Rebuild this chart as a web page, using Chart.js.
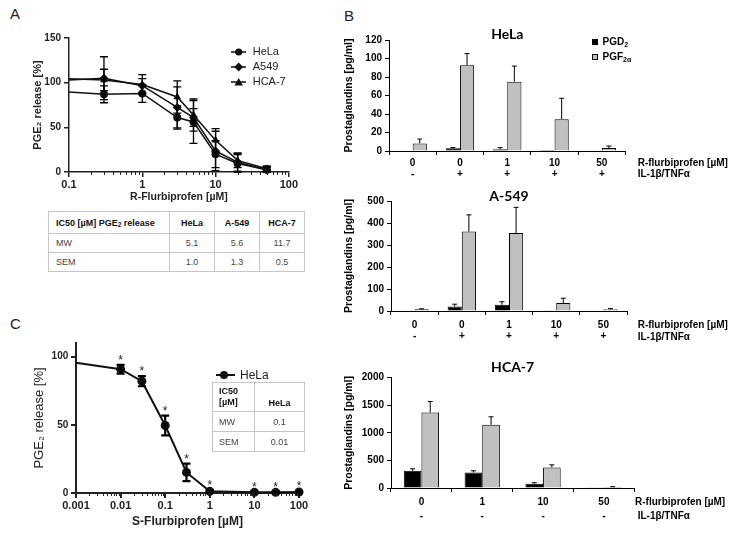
<!DOCTYPE html>
<html>
<head>
<meta charset="utf-8">
<script src="https://cdn.jsdelivr.net/npm/chart.js@4.4.1/dist/chart.umd.min.js"></script>
<style>
  body { margin: 0; background: #fff; }
  #page { position: relative; width: 740px; height: 535px; overflow: hidden; font-family: "Liberation Sans", Arial, sans-serif; color: #000; }
  canvas, .abs { position: absolute; }
  .letter { font-size: 15px; line-height: 15px; color: #222; }
  .side { font-size: 10px; font-weight: bold; line-height: 10px; white-space: nowrap; }
  .leg { font-size: 11px; line-height: 11px; color: #222; white-space: nowrap; }
  .bleg { font-size: 10px; font-weight: bold; line-height: 10px; white-space: nowrap; }
  .bleg sub { font-size: 7px; vertical-align: -2px; line-height: 0; }
  .sq { width: 6px; height: 6px; box-sizing: border-box; }
  table.ic { position: absolute; border-collapse: collapse; font-size: 9px; color: #444; table-layout: fixed; }
  table.ic td { border: 1px solid #c6c6c6; padding: 0 0 0 7px; white-space: nowrap; }
  table.ic td.c { text-align: center; padding: 0; }
  table.ic td.h { font-weight: bold; color: #111; }
  table.ic sub { font-size: 6.5px; vertical-align: -1px; line-height: 0; }
</style>
</head>
<body>
<div id="page">
  <div class="abs letter" style="left:10px;top:6px;">A</div>
  <div class="abs letter" style="left:344px;top:8px;">B</div>
  <div class="abs letter" style="left:10px;top:316px;">C</div>

  <canvas id="chartA" width="280" height="185" style="left:20px;top:25px;"></canvas>
  <canvas id="chartC" width="292" height="205" style="left:22px;top:330px;"></canvas>
  <canvas id="chartHela" width="300" height="162" style="left:340px;top:20px;"></canvas>
  <canvas id="chartA549" width="300" height="160" style="left:340px;top:182px;"></canvas>
  <canvas id="chartHca" width="300" height="171" style="left:340px;top:353px;"></canvas>

  <!-- panel A legend -->
  <svg class="abs" style="left:230px;top:46.7px;" width="18" height="10"><line x1="1" y1="5" x2="16" y2="5" stroke="#111" stroke-width="1.5"/><circle cx="8.7" cy="5" r="3.6" fill="#111"/></svg>
  <div class="abs leg" style="left:252.7px;top:46.2px;">HeLa</div>
  <svg class="abs" style="left:230px;top:61.7px;" width="18" height="10"><line x1="1" y1="5" x2="16" y2="5" stroke="#111" stroke-width="1.5"/><polygon points="8.7,0.5 13.2,5 8.7,9.5 4.2,5" fill="#111"/></svg>
  <div class="abs leg" style="left:252.7px;top:61.2px;">A549</div>
  <svg class="abs" style="left:230px;top:76.7px;" width="18" height="10"><line x1="1" y1="5" x2="16" y2="5" stroke="#111" stroke-width="1.5"/><polygon points="8.7,1 12.9,8.5 4.5,8.5" fill="#111"/></svg>
  <div class="abs leg" style="left:252.7px;top:76.2px;">HCA-7</div>

  <table class="ic" style="left:48px;top:211px;width:256px;">
    <colgroup><col style="width:121px"><col style="width:45px"><col style="width:45px"><col style="width:45px"></colgroup>
    <tr style="height:22px;"><td class="h">IC50 [µM] PGE<sub>2</sub> release</td><td class="c h">HeLa</td><td class="c h">A-549</td><td class="c h">HCA-7</td></tr>
    <tr style="height:19px;"><td>MW</td><td class="c">5.1</td><td class="c">5.6</td><td class="c">11.7</td></tr>
    <tr style="height:19px;"><td>SEM</td><td class="c">1.0</td><td class="c">1.3</td><td class="c">0.5</td></tr>
  </table>

  <!-- panel B legend and side labels -->
  <div class="abs sq" style="left:592px;top:38.5px;background:#000;"></div>
  <div class="abs bleg" style="left:602.5px;top:36.7px;">PGD<sub>2</sub></div>
  <div class="abs sq" style="left:592px;top:54px;background:#c0c0c0;border:1px solid #000;"></div>
  <div class="abs bleg" style="left:602.5px;top:51.7px;">PGF<sub>2α</sub></div>

  <div class="abs side" style="left:637.7px;top:158.3px;">R-flurbiprofen [µM]</div>
  <div class="abs side" style="left:637.7px;top:168.7px;">IL-1β/TNFα</div>
  <div class="abs side" style="left:637.7px;top:320.3px;">R-flurbiprofen [µM]</div>
  <div class="abs side" style="left:637.7px;top:331.7px;">IL-1β/TNFα</div>
  <div class="abs side" style="left:635px;top:497.3px;">R-flurbiprofen [µM]</div>
  <div class="abs side" style="left:637.7px;top:511px;">IL-1β/TNFα</div>

  <!-- panel C legend and table -->
  <svg class="abs" style="left:214px;top:370px;" width="24" height="10"><line x1="2" y1="5" x2="21" y2="5" stroke="#111" stroke-width="2"/><circle cx="10" cy="5" r="4" fill="#111"/></svg>
  <div class="abs leg" style="left:240px;top:369px;font-size:12px;line-height:12px;">HeLa</div>
  <table class="ic" style="left:212px;top:382px;width:92px;">
    <colgroup><col style="width:42px"><col style="width:50px"></colgroup>
    <tr style="height:29px;"><td class="h" style="padding-left:6px;line-height:11.5px;">IC50<br>[µM]</td><td class="c h" style="vertical-align:bottom;padding-bottom:3px;">HeLa</td></tr>
    <tr style="height:20px;"><td style="padding-left:6px;">MW</td><td class="c">0.1</td></tr>
    <tr style="height:20px;"><td style="padding-left:6px;">SEM</td><td class="c">0.01</td></tr>
  </table>
</div>

<script>
// ---- panel A: R-flurbiprofen, PGE2 release [%]
var rConc = [0.1, 0.3, 1, 3, 5, 10, 20, 50];
var helaA = [89.5, 87, 88, 61, 56, 20, 9.5, 2.6];
var helaAErr = [0, 9.5, 10, 13, 24, 15, 10, 3];
var a549A = [103, 105, 96.6, 72.3, 61, 23.6, 11, 2.6];
var a549AErr = [0, 24, 8, 23, 10, 22, 10, 3];
var hca7A = [104.5, 103, 98, 84, 63.7, 35.6, 13, 3.7];
var hca7AErr = [0, 12, 11, 18, 18, 13, 8, 3];
var aTicks = [0.1, 1, 10, 100];
var aTickLabels = ['0.1', '1', '10', '100'];
var aYTicks = [0, 50, 100, 150];

// ---- panel B: prostaglandins [pg/ml]
var helaConc = ['0', '0', '1', '10', '50'];
var helaStim = ['-', '+', '+', '+', '+'];
var helaPGD2 = [0, 2.9, 2, 1, 0];
var helaPGD2Err = [0, 0.8, 1.6, 0, 0];
var helaPGF2a = [8.2, 92.8, 75, 34.4, 3.2];
var helaPGF2aErr = [4.7, 12.5, 16.8, 22.6, 2.2];

var a549Conc = ['0', '0', '1', '10', '50'];
var a549Stim = ['-', '+', '+', '+', '+'];
var a549PGD2 = [0, 21, 28, 3, 0];
var a549PGD2Err = [0, 10, 14, 0, 0];
var a549PGF2a = [7.5, 361, 355, 36, 8];
var a549PGF2aErr = [2.5, 76, 116, 22, 3];

var hcaConc = ['0', '1', '10', '50'];
var hcaStim = ['-', '-', '-', '-'];
var hcaPGD2 = [312, 282, 78, 12];
var hcaPGD2Err = [36, 30, 18, 0];
var hcaPGF2a = [1369, 1147, 372, 18];
var hcaPGF2aErr = [199, 144, 48, 6];

// ---- panel C: S-flurbiprofen, HeLa
var sConc = [0.001, 0.01, 0.03, 0.1, 0.3, 1, 10, 30, 100];
var helaC = [95.5, 90.8, 82, 49.5, 15.1, 1.2, 0.5, 0.5, 0.7];
var helaCErr = [0, 3.2, 3.7, 7.2, 6.4, 1, 0.6, 0.6, 0.6];
var helaCStar = [false, true, true, true, true, true, true, true, true];
var cTicks = [0.001, 0.01, 0.1, 1, 10, 100];
var cTickLabels = ['0.001', '0.01', '0.1', '1', '10', '100'];
var cYTicks = [0, 50, 100];

Chart.defaults.font.family = '"Liberation Sans", Arial, sans-serif';
Chart.defaults.color = '#000';
Chart.defaults.animation = false;
Chart.defaults.plugins.legend.display = false;
Chart.defaults.plugins.tooltip.enabled = false;

// error bars (+ optional significance stars) drawn from each dataset's errors array
var errorBars = {
    id: 'errorBars',
    afterDatasetsDraw: function (chart, args, opts) {
        var ctx = chart.ctx;
        var yScale = chart.scales.y;
        var cap = opts.cap || 6;
        chart.data.datasets.forEach(function (ds, i) {
            if (!ds.errors) return;
            var meta = chart.getDatasetMeta(i);
            ctx.save();
            ctx.strokeStyle = opts.color || '#000';
            ctx.lineWidth = opts.width || 1;
            meta.data.forEach(function (el, j) {
                var v = ds.data[j];
                if (typeof v === 'object') v = v.y;
                var e = ds.errors[j];
                var x = el.x;
                var top = yScale.getPixelForValue(v + e);
                if (e > 0) {
                    var bottom = opts.upOnly ? el.y : yScale.getPixelForValue(v - e);
                    ctx.beginPath();
                    ctx.moveTo(x, bottom);
                    ctx.lineTo(x, top);
                    ctx.moveTo(x - cap / 2, top);
                    ctx.lineTo(x + cap / 2, top);
                    if (!opts.upOnly) {
                        ctx.moveTo(x - cap / 2, bottom);
                        ctx.lineTo(x + cap / 2, bottom);
                    }
                    ctx.stroke();
                }
                if (ds.stars && ds.stars[j]) {
                    ctx.fillStyle = '#222';
                    ctx.font = '12px "Liberation Sans", Arial';
                    ctx.textAlign = 'center';
                    ctx.textBaseline = 'alphabetic';
                    ctx.fillText('*', x, top - 1);
                }
            });
            ctx.restore();
        });
    }
};

// short minor ticks on the log x axis
var minorTicks = {
    id: 'minorTicks',
    afterDraw: function (chart, args, opts) {
        var s = chart.scales.x;
        var ctx = chart.ctx;
        ctx.save();
        ctx.strokeStyle = '#222';
        ctx.lineWidth = 1;
        var e0 = Math.round(Math.log10(s.min)), e1 = Math.round(Math.log10(s.max));
        for (var e = e0; e < e1; e++) {
            for (var k = 2; k <= 9; k++) {
                var px = Math.round(s.getPixelForValue(k * Math.pow(10, e))) + 0.5;
                ctx.beginPath();
                ctx.moveTo(px, s.top);
                ctx.lineTo(px, s.top + (opts.len || 3));
                ctx.stroke();
            }
        }
        ctx.restore();
    }
};

function pts(xs, ys) {
    return xs.map(function (x, i) { return { x: x, y: ys[i] }; });
}

function lineSet(data, errs, style, radius) {
    var r = data.map(function (p, i) { return i === 0 ? 0 : radius; });
    return {
        data: data, errors: errs, borderColor: '#111', backgroundColor: '#111',
        borderWidth: 1.5, pointStyle: style, pointRadius: r, pointBorderWidth: 0, clip: false
    };
}

new Chart(document.getElementById('chartA').getContext('2d'), {
    type: 'line',
    data: {
        datasets: [
            lineSet(pts(rConc, helaA), helaAErr, 'circle', 4),
            lineSet(pts(rConc, a549A), a549AErr, 'rectRot', 4.5),
            lineSet(pts(rConc, hca7A), hca7AErr, 'triangle', 4.5)
        ]
    },
    options: {
        responsive: false,
        layout: { padding: { top: 13, right: 11, left: 0, bottom: 0 } },
        plugins: { errorBars: { width: 1.3, cap: 8 }, minorTicks: { len: 3 } },
        scales: {
            x: {
                type: 'logarithmic', min: 0.1, max: 100,
                afterBuildTicks: function (s) { s.ticks = aTicks.map(function (v) { return { value: v }; }); },
                afterFit: function (s) { s.height = 38; },
                ticks: { autoSkip: false, maxRotation: 0, padding: 2, color: '#222', font: { size: 11, weight: 'bold', lineHeight: 1 },
                    callback: function (v, i) { return aTickLabels[i]; } },
                grid: { drawOnChartArea: false, tickLength: 5, color: '#222', lineWidth: 1.5 },
                border: { color: '#222', width: 1.5 },
                title: { display: true, text: 'R-Flurbiprofen [µM]', color: '#222', font: { size: 10.5, weight: 'bold' }, padding: { top: 0, bottom: 7 } }
            },
            y: {
                min: 0, max: 150,
                afterBuildTicks: function (s) { s.ticks = aYTicks.map(function (v) { return { value: v }; }); },
                afterFit: function (s) { s.width = 49; },
                ticks: { padding: 3, color: '#222', font: { size: 10, weight: 'bold' } },
                grid: { drawOnChartArea: false, tickLength: 5, color: '#222', lineWidth: 1.5 },
                border: { color: '#222', width: 1.5 },
                title: { display: true, text: 'PGE₂ release [%]', color: '#222', font: { size: 11, weight: 'bold' }, padding: { top: 11, bottom: 0 } }
            }
        }
    },
    plugins: [errorBars, minorTicks]
});

new Chart(document.getElementById('chartC').getContext('2d'), {
    type: 'line',
    data: {
        datasets: [Object.assign(lineSet(pts(sConc, helaC), helaCErr, 'circle', 4.5), { borderWidth: 2, stars: helaCStar })]
    },
    options: {
        responsive: false,
        layout: { padding: { top: 13, right: 15, left: 0, bottom: 0 } },
        plugins: { errorBars: { width: 2.2, cap: 8 }, minorTicks: { len: 3 } },
        scales: {
            x: {
                type: 'logarithmic', min: 0.001, max: 100,
                afterBuildTicks: function (s) { s.ticks = cTicks.map(function (v) { return { value: v }; }); },
                afterFit: function (s) { s.height = 42; },
                ticks: { autoSkip: false, maxRotation: 0, padding: 2.5, color: '#222', font: { size: 11, weight: 'bold', lineHeight: 1 },
                    callback: function (v, i) { return cTickLabels[i]; } },
                grid: { drawOnChartArea: false, tickLength: 5, color: '#222', lineWidth: 2 },
                border: { color: '#222', width: 2 },
                title: { display: true, text: 'S-Flurbiprofen [µM]', color: '#222', font: { size: 12, weight: 'bold' }, padding: { top: 0, bottom: 6 } }
            },
            y: {
                min: 0, max: 110,
                afterBuildTicks: function (s) { s.ticks = cYTicks.map(function (v) { return { value: v }; }); },
                afterFit: function (s) { s.width = 54; },
                ticks: { padding: 2.7, color: '#222', font: { size: 10, weight: 'bold' } },
                grid: { drawOnChartArea: false, tickLength: 5, color: '#222', lineWidth: 2 },
                border: { color: '#222', width: 2 },
                title: { display: true, text: 'PGE₂ release [%]', color: '#222', font: { size: 13 }, padding: { top: 9.5, bottom: 0 } }
            }
        }
    },
    plugins: [errorBars, minorTicks]
});

function barChart(id, title, conc, stim, pgd, pgdErr, pgf, pgfErr, o) {
    return new Chart(document.getElementById(id).getContext('2d'), {
        type: 'bar',
        data: {
            labels: conc.map(function (c, i) { return [c, stim[i]]; }),
            datasets: [
                { label: 'PGD2', data: pgd, errors: pgdErr, backgroundColor: '#000', borderColor: '#000', borderWidth: 1,
                  categoryPercentage: o.cat, barPercentage: 1 },
                { label: 'PGF2α', data: pgf, errors: pgfErr, backgroundColor: '#c0c0c0', borderColor: '#000', borderWidth: 1,
                  categoryPercentage: o.cat, barPercentage: 1 }
            ]
        },
        options: {
            responsive: false,
            layout: { padding: { top: 0, right: o.right, left: 0, bottom: 0 } },
            plugins: {
                title: { display: true, text: title, fullSize: false, color: '#000',
                    font: { family: 'Lato, "Open Sans", sans-serif', size: 14, weight: 'bold', lineHeight: 1 },
                    padding: { top: o.tTop, bottom: o.tBottom } },
                errorBars: { width: 1, cap: 5, upOnly: true }
            },
            scales: {
                x: {
                    afterFit: function (s) { s.height = o.xh; },
                    ticks: { autoSkip: false, maxRotation: 0, padding: o.pad, font: { size: 10, weight: 'bold', lineHeight: o.lh } },
                    grid: { drawOnChartArea: false, tickLength: 4, color: '#000', offset: true },
                    border: { color: '#000', width: 1 }
                },
                y: {
                    min: 0, max: o.max,
                    ticks: { stepSize: o.step, padding: 3, font: { size: 10, weight: 'bold' },
                        callback: function (v) { return String(v); } },
                    afterFit: function (s) { s.width = o.yw; },
                    grid: { drawOnChartArea: false, tickLength: 4, color: '#000' },
                    border: { color: '#000', width: 1 },
                    title: { display: true, text: 'Prostaglandins [pg/ml]', font: { size: 10.5, weight: 'bold' }, padding: { top: 2.7, bottom: 0 } }
                }
            }
        },
        plugins: [errorBars]
    });
}

barChart('chartHela', 'HeLa', helaConc, helaStim, helaPGD2, helaPGD2Err, helaPGF2a, helaPGF2aErr,
    { cat: 0.6, right: 14.5, tTop: 7, tBottom: -1, xh: 31, pad: 3, lh: 1.1, max: 120, step: 20, yw: 49 });
barChart('chartA549', 'A-549', a549Conc, a549Stim, a549PGD2, a549PGD2Err, a549PGF2a, a549PGF2aErr,
    { cat: 0.6, right: 13, tTop: 7.2, tBottom: -2.2, xh: 31, pad: 4.6, lh: 1.14, max: 500, step: 100, yw: 51 });
barChart('chartHca', 'HCA-7', hcaConc, hcaStim, hcaPGD2, hcaPGD2Err, hcaPGF2a, hcaPGF2aErr,
    { cat: 0.58, right: 5.7, tTop: 7.2, tBottom: 3.5, xh: 36, pad: 3.4, lh: 1.37, max: 2000, step: 500, yw: 51 });
</script>
</body>
</html>
